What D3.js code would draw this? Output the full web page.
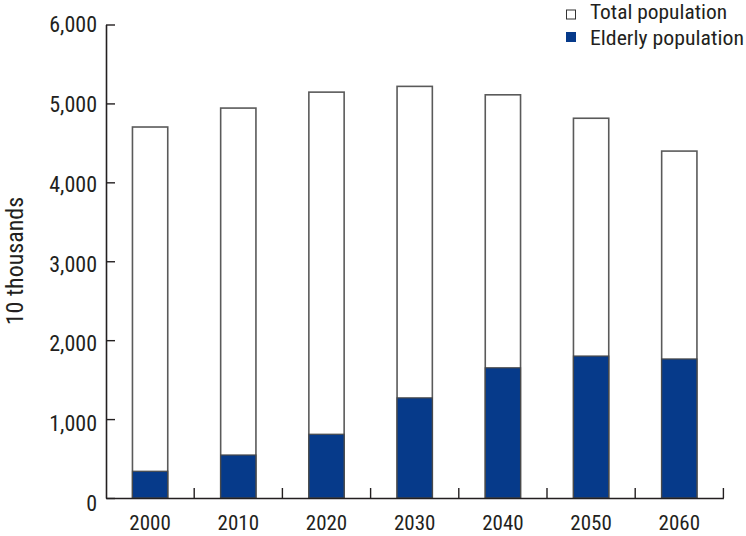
<!DOCTYPE html>
<html><head><meta charset="utf-8">
<script src="https://cdn.jsdelivr.net/npm/d3@7"></script>
<style>
body{margin:0;background:#fff;}
text{font-family:"Liberation Sans Narrow","Roboto Condensed",Roboto,sans-serif;fill:#231f20;}
</style></head>
<body><svg id="c" width="746" height="536"></svg>
<script>
const categories = ["2000","2010","2020","2030","2040","2050","2060"];
const totalPopulation = [4701, 4941, 5143, 5216, 5109, 4812, 4396];
const elderlyPopulation = [339, 545, 808, 1269, 1650, 1799, 1762];
const yTicks = [0, 1000, 2000, 3000, 4000, 5000, 6000];
const seriesNames = ["Total population", "Elderly population"];
const colors = ["#ffffff", "#063a8a"];

const FONT = '"Liberation Sans Narrow","Roboto Condensed",Roboto,sans-serif';
const svg = d3.select("#c");
const x0 = 106, x1 = 723.4, yBottom = 498, yTop = 24.5;
const x = d3.scaleBand().domain(categories).range([x0, x1]).padding(0);
const y = d3.scaleLinear().domain([0, 6000]).range([yBottom, yTop]);
const bw = x.bandwidth() * 0.4;
const fmt = d3.format(",");

// Total bars
svg.append("g").selectAll("rect").data(categories).join("rect")
  .attr("x", d => x(d) + x.bandwidth()/2 - bw/2)
  .attr("y", (d,i) => y(totalPopulation[i]))
  .attr("width", bw)
  .attr("height", (d,i) => y(0) - y(totalPopulation[i]))
  .attr("fill", colors[0]).attr("stroke", "#5a5a5a").attr("stroke-width", 1.6);
// Elderly bars
svg.append("g").selectAll("rect").data(categories).join("rect")
  .attr("x", d => x(d) + x.bandwidth()/2 - bw/2)
  .attr("y", (d,i) => y(elderlyPopulation[i]))
  .attr("width", bw)
  .attr("height", (d,i) => y(0) - y(elderlyPopulation[i]))
  .attr("fill", colors[1]).attr("stroke", "#4a4a4a").attr("stroke-width", 1.2);

// Y axis
const ya = svg.append("g").attr("transform", `translate(${x0},0)`)
  .call(d3.axisLeft(y).tickValues(yTicks).tickFormat(fmt).tickSize(-9).tickSizeOuter(0).tickPadding(9));
ya.select(".domain").attr("stroke", "#231f20").attr("stroke-width", 1.6);
ya.selectAll(".tick line").attr("stroke", "#231f20").attr("stroke-width", 1.4);
ya.selectAll(".tick text").attr("font-size", 22).attr("fill", "#231f20")
  .attr("font-family", FONT).attr("dy", (d) => (0.32 + (6000 - d) / 6000 * 0.25) + "em");

// X axis
const xa = svg.append("g").attr("transform", `translate(0,${yBottom})`)
  .call(d3.axisBottom(x).tickSize(0).tickPadding(17));
xa.select(".domain").attr("stroke", "#231f20").attr("stroke-width", 1.6);
xa.selectAll(".tick text").attr("font-size", 21).attr("fill", "#231f20")
  .attr("font-family", FONT);
// Boundary ticks between categories
svg.append("g").selectAll("line").data(categories).join("line")
  .attr("x1", d => x(d) + x.bandwidth()).attr("x2", d => x(d) + x.bandwidth())
  .attr("y1", yBottom).attr("y2", yBottom - 10)
  .attr("stroke", "#231f20").attr("stroke-width", 1.4);

// Y label
svg.append("text").attr("transform", "translate(23,261) rotate(-90)")
  .attr("text-anchor", "middle").attr("font-size", 24).text("10 thousands");

// Legend
const lg = svg.append("g");
const legendWidths = [137, 154];
seriesNames.forEach((name, i) => {
  lg.append("rect").attr("x", 566.5).attr("y", 10 + i * 22.5).attr("width", 9).attr("height", 9)
    .attr("fill", colors[i]).attr("stroke", i === 0 ? "#333" : colors[i]).attr("stroke-width", 1);
  lg.append("text").attr("x", 590).attr("y", 19 + i * 26).attr("font-size", 20)
    .attr("textLength", legendWidths[i]).attr("lengthAdjust", "spacingAndGlyphs").text(name);
});
</script></body></html>
